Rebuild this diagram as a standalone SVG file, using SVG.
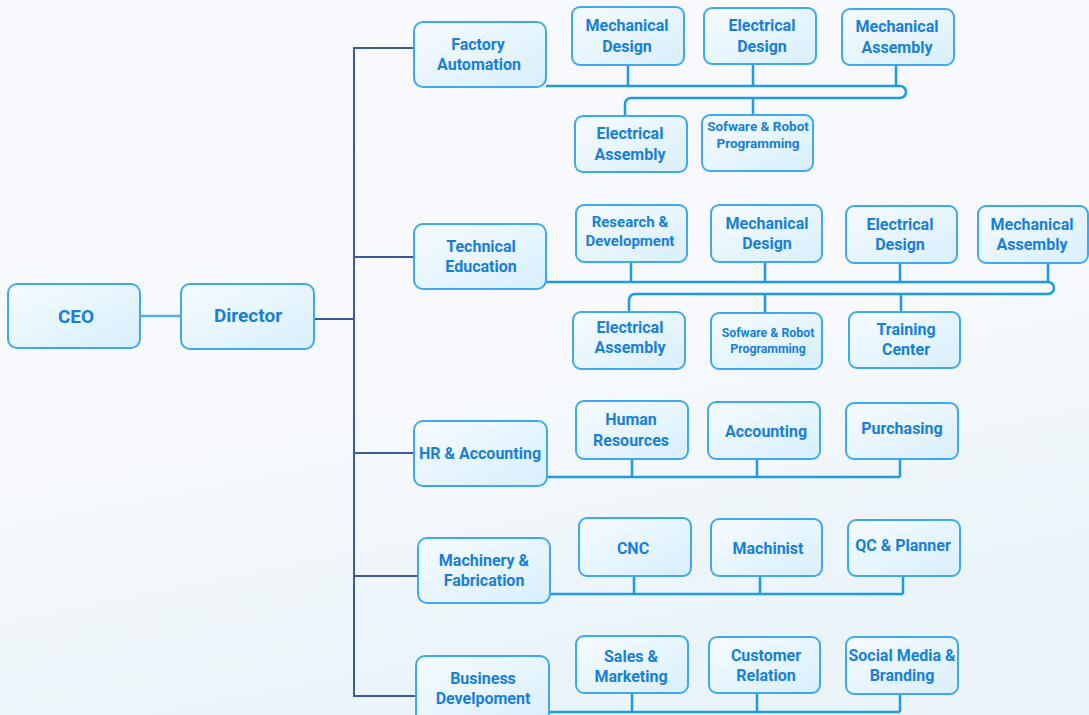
<svg xmlns="http://www.w3.org/2000/svg" width="1089" height="715" viewBox="0 0 1089 715">
<defs>
<linearGradient id="bg" x1="0" y1="0" x2="0.3" y2="1">
<stop offset="0" stop-color="#f9f9fe"/>
<stop offset="0.6" stop-color="#f7f9fd"/>
<stop offset="1" stop-color="#eaf4f9"/>
</linearGradient>
<linearGradient id="nf" x1="0" y1="0" x2="1" y2="1">
<stop offset="0" stop-color="#f6fbff"/>
<stop offset="1" stop-color="#d8effc"/>
</linearGradient>
<style>
.n rect{fill:url(#nf);stroke:#3fa9ee;stroke-width:2}
.n text{font-family:Roboto,"Liberation Sans",sans-serif;font-weight:700;fill:#1780d6;text-anchor:middle;font-size:16px}
.n text.b{font-size:19px}
.n text.s{font-size:13.5px}
.n text.xs{font-size:12.3px}
.n text.m{font-size:15px}
.trunk{fill:none;stroke:#3d5a98;stroke-width:2}
.bus{fill:none;stroke:#1f9ae0;stroke-width:2.5}
.lt{fill:none;stroke:#4ab0ee;stroke-width:2.5}
</style>
</defs>
<rect width="1089" height="715" fill="url(#bg)"/>
<g id="connectors">
<path class="lt" d="M140,316 H181"/>
<path class="trunk" d="M314,319 H354"/>
<path class="trunk" d="M414,48 H354 V696 H416"/>
<path class="trunk" d="M354,257 H414 M354,453 H414 M354,576 H418"/>
<path class="bus" d="M546,86 H900 A6,6 0 0 1 900,98 H631 A6,6 0 0 0 625,104 V116"/>
<path class="bus" d="M628,65 V86 M753,64 V86 M896,65 V86 M753,98 V115"/>
<path class="bus" d="M546,282 H1048 A6,6 0 0 1 1048,294 H635 A6,6 0 0 0 629,300 V313"/>
<path class="bus" d="M631,262 V282 M765,262 V282 M900,263 V282 M1048,263 V282 M765,294 V314 M901,294 V312"/>
<path class="bus" d="M547,477 H900 M632,459 V477 M757,459 V477 M900,459 V477"/>
<path class="bus" d="M550,594 H903 M634,576 V594 M760,576 V594 M903,576 V594"/>
<path class="bus" d="M549,712 H900 M632,693 V712 M757,693 V712 M900,694 V712"/>
</g>
<g id="ceo" class="n"><rect x="8" y="284" width="132" height="64" rx="9"/><text class="b" x="76" y="323">CEO</text></g>
<g id="director" class="n"><rect x="181" y="284" width="133" height="65" rx="9"/><text class="b" x="248" y="322">Director</text></g>

<g id="factory-automation" class="n"><rect x="414" y="22" width="132" height="65" rx="9"/><text x="478" y="50">Factory</text><text x="479" y="70">Automation</text></g>
<g id="fa-mech-design" class="n"><rect x="572" y="7" width="112" height="58" rx="8"/><text x="627" y="31">Mechanical</text><text x="627" y="52">Design</text></g>
<g id="fa-elec-design" class="n"><rect x="704" y="8" width="112" height="56" rx="8"/><text x="762" y="31">Electrical</text><text x="762" y="52">Design</text></g>
<g id="fa-mech-assembly" class="n"><rect x="842" y="9" width="112" height="56" rx="8"/><text x="897" y="32">Mechanical</text><text x="897" y="53">Assembly</text></g>
<g id="fa-elec-assembly" class="n"><rect x="575" y="116" width="112" height="56" rx="8"/><text x="630" y="139">Electrical</text><text x="630" y="160">Assembly</text></g>
<g id="fa-software" class="n"><rect x="702" y="115" width="111" height="56" rx="8"/><text class="s" x="758" y="131">Sofware &amp; Robot</text><text class="s" x="758" y="148">Programming</text></g>

<g id="technical-education" class="n"><rect x="414" y="224" width="132" height="65" rx="9"/><text x="481" y="252">Technical</text><text x="481" y="272">Education</text></g>
<g id="te-rnd" class="n"><rect x="576" y="205" width="111" height="57" rx="8"/><text class="m" x="630" y="227">Research &amp;</text><text class="m" x="630" y="246">Development</text></g>
<g id="te-mech-design" class="n"><rect x="711" y="205" width="111" height="57" rx="8"/><text x="767" y="229">Mechanical</text><text x="767" y="249">Design</text></g>
<g id="te-elec-design" class="n"><rect x="846" y="206" width="111" height="57" rx="8"/><text x="900" y="230">Electrical</text><text x="900" y="250">Design</text></g>
<g id="te-mech-assembly" class="n"><rect x="978" y="206" width="110" height="57" rx="8"/><text x="1032" y="230">Mechanical</text><text x="1032" y="250">Assembly</text></g>
<g id="te-elec-assembly" class="n"><rect x="573" y="312" width="112" height="57" rx="8"/><text x="630" y="333">Electrical</text><text x="630" y="353">Assembly</text></g>
<g id="te-software" class="n"><rect x="711" y="313" width="111" height="56" rx="8"/><text class="xs" x="768" y="337">Sofware &amp; Robot</text><text class="xs" x="768" y="353">Programming</text></g>
<g id="te-training" class="n"><rect x="849" y="312" width="111" height="56" rx="8"/><text x="906" y="335">Training</text><text x="906" y="355">Center</text></g>

<g id="hr-accounting" class="n"><rect x="414" y="421" width="133" height="65" rx="9"/><text x="480" y="459">HR &amp; Accounting</text></g>
<g id="hr-human-resources" class="n"><rect x="576" y="401" width="112" height="58" rx="8"/><text x="631" y="425">Human</text><text x="631" y="446">Resources</text></g>
<g id="hr-accounting-dept" class="n"><rect x="708" y="402" width="112" height="57" rx="8"/><text x="766" y="437">Accounting</text></g>
<g id="hr-purchasing" class="n"><rect x="846" y="403" width="112" height="56" rx="8"/><text x="902" y="434">Purchasing</text></g>

<g id="machinery-fabrication" class="n"><rect x="418" y="538" width="132" height="65" rx="9"/><text x="484" y="566">Machinery &amp;</text><text x="484" y="586">Fabrication</text></g>
<g id="mf-cnc" class="n"><rect x="579" y="518" width="112" height="58" rx="8"/><text x="633" y="554">CNC</text></g>
<g id="mf-machinist" class="n"><rect x="711" y="519" width="111" height="57" rx="8"/><text x="768" y="554">Machinist</text></g>
<g id="mf-qc" class="n"><rect x="848" y="520" width="112" height="56" rx="8"/><text x="903" y="551">QC &amp; Planner</text></g>

<g id="business-development" class="n"><rect x="416" y="656" width="133" height="70" rx="9"/><text x="483" y="684">Business</text><text x="483" y="704">Develpoment</text></g>
<g id="bd-sales" class="n"><rect x="576" y="636" width="112" height="57" rx="8"/><text x="631" y="662">Sales &amp;</text><text x="631" y="682">Marketing</text></g>
<g id="bd-customer" class="n"><rect x="709" y="637" width="111" height="56" rx="8"/><text x="766" y="661">Customer</text><text x="766" y="681">Relation</text></g>
<g id="bd-social" class="n"><rect x="846" y="637" width="112" height="57" rx="8"/><text x="902" y="661">Social Media &amp;</text><text x="902" y="681">Branding</text></g>
</svg>
